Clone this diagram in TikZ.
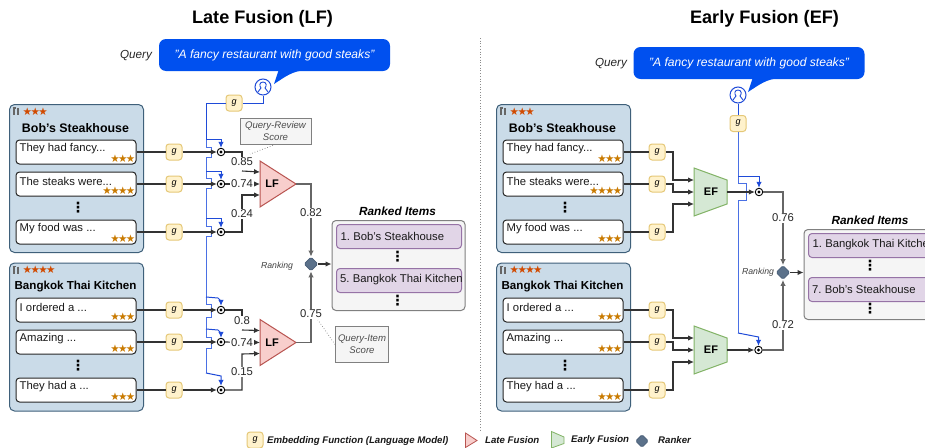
\documentclass[tikz,border=0pt]{standalone}
\usepackage{fontspec}
\setmainfont{Liberation Sans}
\newfontfamily\symfam{DejaVu Sans}
\usetikzlibrary{arrows.meta,shapes.geometric,calc}
\frenchspacing
\definecolor{panelfill}{HTML}{CADBE8}
\definecolor{paneldraw}{HTML}{3F607A}
\definecolor{gfill}{HTML}{FFF2CC}
\definecolor{gdraw}{HTML}{E5C878}
\definecolor{lffill}{HTML}{F8CECC}
\definecolor{lfdraw}{HTML}{B85450}
\definecolor{effill}{HTML}{D5E8D4}
\definecolor{efdraw}{HTML}{82B366}
\definecolor{rankfill}{HTML}{5B718A}
\definecolor{rankdraw}{HTML}{4A5F78}
\definecolor{itemfill}{HTML}{E1D5E7}
\definecolor{itemdraw}{HTML}{9673A6}
\definecolor{greyfill}{HTML}{F5F5F5}
\definecolor{greydraw}{HTML}{808080}
\definecolor{qblue}{HTML}{0050EF}
\definecolor{lblue}{HTML}{1F4BD8}
\definecolor{spine}{HTML}{4A70E4}
\definecolor{starred}{HTML}{D14A00}
\definecolor{starorg}{HTML}{C97A00}
\definecolor{conncol}{HTML}{333333}
\tikzset{
  x=1pt,y=-1pt,
  panel/.style={draw=paneldraw,fill=panelfill,line width=1pt,rounded corners=5pt,minimum width=134pt,minimum height=148pt,inner sep=0},
  review/.style={draw=black!85,fill=white,line width=1pt,rounded corners=3.5pt,minimum width=120pt,minimum height=24pt,inner sep=0},
  rtext/.style={font=\fontsize{11.3}{13}\selectfont,inner sep=0,text=black!90},
  head/.style={font=\bfseries\fontsize{11.6}{13}\selectfont,inner sep=0},
  starbig/.style={font=\symfam\fontsize{10.5}{11}\selectfont,text=starred,inner sep=0},
  starsm/.style={font=\symfam\fontsize{10.5}{11}\selectfont,text=starorg,inner sep=0},
  gbox/.style={draw=gdraw,fill=gfill,line width=1pt,rounded corners=3pt,minimum width=16pt,minimum height=16pt,inner sep=0,font=\itshape\fontsize{9}{10}\selectfont},
  conn/.style={draw=conncol,line width=1.1pt},
  arr/.style={conn,-{Latex[length=6pt,width=5.5pt]}},
  blueline/.style={draw=lblue,line width=1pt},
  spineline/.style={draw=spine,line width=1pt},
  bluearr/.style={blueline,-{Latex[length=6pt,width=5.5pt]}},
  fuse/.style={circle,draw=black,fill=white,line width=.9pt,inner sep=0,minimum size=7.5pt,path picture={\fill[black] (path picture bounding box.center) circle (1.6pt);}},
  score/.style={fill=white,inner sep=.6pt,font=\fontsize{11.3}{13}\selectfont,text=black!85},
  ftext/.style={font=\bfseries\fontsize{11}{12}\selectfont,inner sep=0},
  lfshape/.style={draw=lfdraw,fill=lffill,line width=1pt},
  efshape/.style={draw=efdraw,fill=effill,line width=1pt},
  ranker/.style={diamond,draw=rankdraw,fill=rankfill,line width=.8pt,inner sep=0,minimum width=14pt,minimum height=14pt,rounded corners=1.5pt},
  itembox/.style={draw=itemdraw,fill=itemfill,line width=1pt,rounded corners=3.5pt,minimum width=125pt,minimum height=24pt,inner sep=0},
  ittext/.style={font=\fontsize{11.3}{13}\selectfont,inner sep=0,text=black!90},
  rankbox/.style={draw=greydraw,fill=greyfill,line width=1pt,rounded corners=4pt,minimum width=133pt,minimum height=90pt,inner sep=0},
  notebox/.style={draw=greydraw,fill=greyfill,line width=1pt,inner sep=0,align=center,font=\itshape\fontsize{9.6}{12}\selectfont,text=black!70},
  vdots/.style={font=\symfam\bfseries\fontsize{14}{15}\selectfont,inner sep=0},
  bubble/.style={fill=qblue,rounded corners=7pt,minimum width=231pt,minimum height=32pt,inner sep=0,text=white,font=\itshape\fontsize{12.1}{14}\selectfont},
  title/.style={font=\bfseries\fontsize{18.1}{20}\selectfont,inner sep=0},
  ital/.style={font=\itshape\fontsize{11.7}{13}\selectfont,inner sep=0,text=black!85},
  rankit/.style={font=\itshape\fontsize{8.7}{10}\selectfont,inner sep=0,text=black!75},
  dotl/.style={draw=black!50,line width=.7pt,dotted},
  legtext/.style={font=\bfseries\itshape\fontsize{9.65}{11}\selectfont,inner sep=0,text=black!90},
  user/.style={circle,draw=lblue,fill=white,line width=1pt,minimum size=16pt,inner sep=0},
}
% name, left x, centre y, text, stars
\newcommand\rv[5]{%
  \node[review] (#1) at (#2+60,#3) {};
  \node[rtext,anchor=west] (#1t) at (#2+3.5,#3-3) {#4};
  \node[starsm,anchor=east] (#1s) at (#2+119.5,#3+7) {#5};
}
% name, left x, top y, stars, title
\newcommand\pnl[5]{%
  \node[panel,anchor=north west] (#1) at (#2,#3) {};
  \draw[black!60,line width=1.3pt] (#2+5,#3+4) -- (#2+5,#3+11) (#2+3.5,#3+4) -- (#2+6.5,#3+4) (#2+9,#3+4) -- (#2+9,#3+11);
  \node[starbig,anchor=west] (#1s) at (#2+13.5,#3+7.5) {#4};
  \node[head] (#1h) at (#2+66.5,#3+24) {#5};
}
% name, x, y
\newcommand\usr[3]{%
  \node[user] (#1) at (#2,#3) {};
  \draw[lblue,line width=.9pt] (#2-5,#3+5) .. controls (#2-4,#3+2) and (#2-2,#3+2.5) .. (#2-2,#3+1) .. controls (#2-4,#3-1) and (#2-3.5,#3-5) .. (#2,#3-5) .. controls (#2+3.5,#3-5) and (#2+4,#3-1) .. (#2+2,#3+1) .. controls (#2+2,#3+2.5) and (#2+4,#3+2) .. (#2+5,#3+5);
}
% name, centre x, centre y
\newcommand\lftri[3]{%
  \draw[lfshape] (#2-18,#3-23) -- (#2+18,#3) -- (#2-18,#3+23) -- cycle;
  \node[ftext] (#1) at (#2-6,#3) {LF};
  \coordinate (#1a) at (#2-18,#3-12);
  \coordinate (#1b) at (#2-18,#3);
  \coordinate (#1c) at (#2-18,#3+11);
  \coordinate (#1o) at (#2+18,#3);
}
\newcommand\eftrap[3]{%
  \draw[efshape] (#2-17,#3-24) -- (#2+16,#3-12) -- (#2+16,#3+12) -- (#2-17,#3+24) -- cycle;
  \node[ftext] (#1) at (#2,#3) {EF};
  \coordinate (#1a) at (#2-17,#3-12);
  \coordinate (#1b) at (#2-17,#3);
  \coordinate (#1c) at (#2-17,#3+12);
  \coordinate (#1o) at (#2+16,#3);
}
\newcommand\sththree{★\kern-1.6pt★\kern-1.6pt★}
\newcommand\sthfour{★\kern-1.6pt★\kern-1.6pt★\kern-1.6pt★}
\newcommand\bobhead{{\fontsize{12.4}{13}\selectfont Bob's Steakhouse}}
\begin{document}
\begin{tikzpicture}
\useasboundingbox (0,0) rectangle (925,447);
\clip (0,0) rectangle (925,447);
\fill[white] (0,0) rectangle (925,447);

% titles
\node[title] (t1) at (262.5,19) {Late Fusion (LF)};
\node[title] (t2) at (764.5,19) {Early Fusion (EF)};
\draw[black!45,line width=.7pt,dotted] (480,38) -- (480,430);

%%%%%%%%%% LEFT
\node[ital] (q1) at (136,56) {Query};
\node[bubble] (b1) at (274.5,55) {\raisebox{-1.5pt}{"A fancy restaurant with good steaks"}};
\fill[qblue] (279,69) -- (274,84) .. controls (285,77) and (292,71) .. (306,70) -- cycle;
\usr{u1}{263}{87}

\pnl{p1}{9}{104}{\sththree}{\bobhead}
\rv{r1}{16}{152}{They had fancy...}{\sththree}
\rv{r2}{16}{184}{The steaks were...}{\sthfour}
\node[vdots] (d1) at (78,208) {⋮};
\rv{r3}{16}{232}{My food was ...}{\sththree}

\pnl{p2}{9}{262.5}{\sthfour}{Bangkok Thai Kitchen}
\rv{r4}{16}{310}{I ordered a ...}{\sththree}
\rv{r5}{16}{342}{Amazing ...}{\sththree}
\node[vdots] (d2) at (78,366) {⋮};
\rv{r6}{16}{390}{They had a ...}{\sththree}

\node[gbox] (gq1) at (234,103) {g};
\draw[blueline] (u1.south) -- (263,103) -- (gq1.east);
\draw[blueline] (gq1.west) -- (206,103) -- (206,139);
\draw[spineline] (206,139) -- (206,147) -- (211,147) -- (211,157) -- (206,157)
  -- (206,178) -- (211,178) -- (211,188) -- (206,188)
  -- (206,226) -- (211,226) -- (211,236) -- (206,236)
  -- (206,304) -- (211,304) -- (211,317) -- (206,317)
  -- (206,337) -- (211,337) -- (211,348) -- (206,348) -- (206,373);
\foreach \n/\y in {1/152,2/184,3/232,4/310,5/342,6/390}{
  \node[gbox] (g\n) at (174,\y) {g};
  \node[fuse] (c\n) at (221,\y) {};
  \draw[conn] (r\n.east) -- (g\n.west);
  \draw[arr] (g\n.east) -- (c\n.west);
}
\draw[bluearr] (206,139) -- (221,139) -- (c1.north);
\draw[bluearr] (206,171) -- (221,171) -- (c2.north);
\draw[bluearr] (206,218) -- (221,218) -- (c3.north);
\draw[bluearr] (206,297) -- (218,298) -- (221,301) -- (c4.north);
\draw[bluearr] (206,329) -- (218,330) -- (221,333) -- (c5.north);
\draw[bluearr] (206,373) -- (221,376) -- (c6.north);

\lftri{lf1}{278}{184}
\lftri{lf2}{278}{342.5}
% scores
\draw[conn] (c1.east) -- (242,152) -- (242,158);
\draw[arr] (242,171) -- (lf1a);
\draw[arr] (c2.east) -- (lf1b);
\draw[arr] (c3.east) -- (242,232) -- (242,195) -- (lf1c);
\draw[conn] (c4.east) -- (242,310) -- (242,316);
\draw[arr] (242,330) -- (lf2a);
\draw[arr] (c5.east) -- (lf2b);
\draw[arr] (c6.east) -- (242,390) -- (242,354) -- (lf2c);
\node[score] (s1) at (242,162) {0.85};
\node[score] (s2) at (242,184) {0.74};
\node[score] (s3) at (242,214) {0.24};
\node[score] (s4) at (242,321) {0.8};
\node[score] (s5) at (242,343) {0.74};
\node[score] (s6) at (242,372) {0.15};

\node[ranker] (k1) at (311,264) {};
\node[rankit] (kl1) at (277,266) {Ranking};
\draw[arr,draw=black!60] (lf1o) -- (311,184) -- (k1.north);
\draw[arr,draw=black!60] (lf2o) -- (311,342.5) -- (k1.south);
\node[score] (o1) at (311,213) {0.82};
\node[score] (o2) at (311,314) {0.75};

\node[font=\bfseries\itshape\fontsize{11.8}{13}\selectfont,inner sep=0] (rt1) at (397.5,211) {Ranked Items};
\node[rankbox,anchor=north west] (rb1) at (331.5,220) {};
\draw[arr] (k1.east) -- (rb1.west |- k1);
\node[itembox,anchor=north west] (i1) at (336,224) {};
\node[ittext,anchor=west] (i1t) at (340.5,236) {1. Bob's Steakhouse};
\node[vdots] (d3) at (397.5,257) {⋮};
\node[itembox,anchor=north west] (i2) at (336,268) {};
\node[ittext,anchor=west] (i2t) at (340,280) {5. Bangkok Thai Kitchen};
\node[vdots] (d4) at (397.5,300.5) {⋮};

\node[notebox,minimum width=71pt,minimum height=26pt] (n1) at (275.5,131) {Query-Review\\Score};
\node[notebox,minimum width=53pt,minimum height=36pt] (n2) at (362,344.5) {Query-Item\\Score};
\draw[dotl] (n1.south) -- (250,154);
\draw[dotl] (n2.west) -- (318,320);

%%%%%%%%%% RIGHT
\node[ital] (q2) at (611,64) {Query};
\node[bubble] (b2) at (749,63) {\raisebox{-1.5pt}{"A fancy restaurant with good steaks"}};
\fill[qblue] (753,77) -- (748,92) .. controls (759,85) and (766,79) .. (780,78) -- cycle;
\usr{u2}{738}{95}

\pnl{p3}{496}{104}{\sththree}{\bobhead}
\rv{q1r}{503}{152}{They had fancy...}{\sththree}
\rv{q2r}{503}{184}{The steaks were...}{\sthfour}
\node[vdots] (d5) at (565,208) {⋮};
\rv{q3r}{503}{232}{My food was ...}{\sththree}

\pnl{p4}{496}{262.5}{\sthfour}{Bangkok Thai Kitchen}
\rv{q4r}{503}{310}{I ordered a ...}{\sththree}
\rv{q5r}{503}{342}{Amazing ...}{\sththree}
\node[vdots] (d6) at (565,366) {⋮};
\rv{q6r}{503}{390}{They had a ...}{\sththree}

\foreach \n/\y in {1/152,2/184,3/232,4/310,5/342,6/390}{
  \node[gbox] (h\n) at (657,\y) {g};
  \draw[conn] (q\n r.east) -- (h\n.west);
}
\eftrap{ef1}{711}{192}
\eftrap{ef2}{711}{350}
\draw[arr] (h1.east) -- (673,152) -- (673,180) -- (ef1a);
\draw[arr] (h2.east) -- (673,184) -- (673,192) -- (ef1b);
\draw[arr] (h3.east) -- (673,232) -- (673,204) -- (ef1c);
\draw[arr] (h4.east) -- (673,310) -- (673,338) -- (ef2a);
\draw[arr] (h5.east) -- (673,342) -- (673,350) -- (ef2b);
\draw[arr] (h6.east) -- (673,390) -- (673,362) -- (ef2c);

\node[gbox] (gq2) at (738,123.5) {g};
\draw[blueline] (u2.south) -- (gq2.north);
\draw[spineline] (gq2.south) -- (738,183) -- (746,183) -- (746,200) -- (738,200) -- (738,333);
\node[fuse] (f1) at (759,192) {};
\node[fuse] (f2) at (758.5,350) {};
\draw[arr] (ef1o) -- (f1.west);
\draw[arr] (ef2o) -- (f2.west);
\draw[bluearr] (738,176) -- (759,176) -- (f1.north);
\draw[bluearr] (738,333) -- (758.5,337) -- (f2.north);

\node[ranker] (k2) at (783,272.5) {};
\node[rankit] (kl2) at (758,272) {Ranking};
\draw[arr,draw=black!60] (f1.east) -- (783,192) -- (k2.north);
\draw[arr,draw=black!60] (f2.east) -- (783,350) -- (k2.south);
\node[score] (o3) at (783,218) {0.76};
\node[score] (o4) at (783,325) {0.72};

\node[font=\bfseries\itshape\fontsize{11.8}{13}\selectfont,inner sep=0] (rt2) at (870,220) {Ranked Items};
\node[rankbox,anchor=north west] (rb2) at (803.5,229) {};
\draw[arr] (k2.east) -- (rb2.west |- k2);
\node[itembox,anchor=north west] (j1) at (808,233) {};
\node[ittext,anchor=west] (j1t) at (812.5,245) {1. Bangkok Thai Kitchen};
\node[vdots] (d7) at (870,266) {⋮};
\node[itembox,anchor=north west] (j2) at (808,277) {};
\node[ittext,anchor=west] (j2t) at (812,289) {7. Bob's Steakhouse};
\node[vdots] (d8) at (870,309) {⋮};

%%%%%%%%%% LEGEND
\node[gbox] (lg) at (255,440) {g};
\node[legtext,anchor=west] (lgt) at (267,441) {Embedding Function (Language Model)};
\draw[lfshape,line width=.8pt] (465.5,433) -- (477,440.5) -- (465.5,447.5) -- cycle;
\node[legtext,anchor=west] (llf) at (485,440) {Late Fusion};
\draw[efshape,line width=.8pt] (551.5,431.5) -- (564,437) -- (564,443.5) -- (551.5,448) -- cycle;
\node[legtext,anchor=west] (lef) at (571,440) {Early Fusion};
\node[ranker,minimum width=13pt,minimum height=13pt] (lk) at (642,441) {};
\node[legtext,anchor=west] (lkt) at (658,440) {Ranker};
\end{tikzpicture}
\end{document}
